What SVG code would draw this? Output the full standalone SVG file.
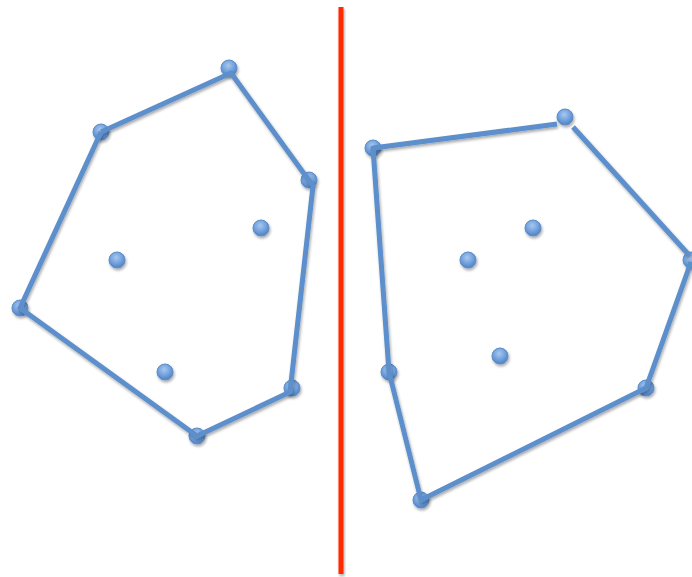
<svg xmlns="http://www.w3.org/2000/svg" width="692" height="577" viewBox="0 0 692 577">
<defs>
<radialGradient id="g" cx="0.45" cy="0.35" r="0.65">
<stop offset="0" stop-color="#a9c8f0"/>
<stop offset="0.6" stop-color="#6f9fdb"/>
<stop offset="1" stop-color="#4f82c2"/>
</radialGradient>
<filter id="sh" x="-50%" y="-50%" width="200%" height="200%">
<feGaussianBlur in="SourceAlpha" stdDeviation="1.5"/>
<feOffset dx="1" dy="2"/>
<feComponentTransfer><feFuncA type="linear" slope="0.35"/></feComponentTransfer>
<feMerge><feMergeNode/><feMergeNode in="SourceGraphic"/></feMerge>
</filter>
</defs>
<style>
.e{fill:none;stroke:#5b8fcb;stroke-width:5;stroke-linecap:butt;stroke-linejoin:round}
.d{fill:url(#g);stroke:#5a8cc8;stroke-width:1}
</style>
<rect width="692" height="577" fill="#ffffff"/>
<g id="divider" filter="url(#sh)">
<rect x="338.5" y="7" width="5" height="567" fill="#ff2a00"/>
</g>
<g id="nodes" filter="url(#sh)">
<g id="L1"><circle class="d" cx="229" cy="68" r="8"/></g>
<g id="L2"><circle class="d" cx="309" cy="180" r="8"/></g>
<g id="L3"><circle class="d" cx="292" cy="388" r="8"/></g>
<g id="L4"><circle class="d" cx="197" cy="436" r="8"/></g>
<g id="L5"><circle class="d" cx="20" cy="308" r="8"/></g>
<g id="L6"><circle class="d" cx="101" cy="132" r="8"/></g>
<g id="L7"><circle class="d" cx="117" cy="260" r="8"/></g>
<g id="L8"><circle class="d" cx="261" cy="228" r="8"/></g>
<g id="L9"><circle class="d" cx="165" cy="372" r="8"/></g>
<g id="R1"><circle class="d" cx="373" cy="148" r="8"/></g>
<g id="R2"><circle class="d" cx="565" cy="117" r="8"/></g>
<g id="R3"><circle class="d" cx="691" cy="260" r="8"/></g>
<g id="R4"><circle class="d" cx="646" cy="388" r="8"/></g>
<g id="R5"><circle class="d" cx="421" cy="500" r="8"/></g>
<g id="R6"><circle class="d" cx="389" cy="372" r="8"/></g>
<g id="R7"><circle class="d" cx="468" cy="260" r="8"/></g>
<g id="R8"><circle class="d" cx="533" cy="228" r="8"/></g>
<g id="R9"><circle class="d" cx="500" cy="356" r="8"/></g>
</g>
<g id="connectors" filter="url(#sh)">
<polyline class="e" points="101,132 231,73 313,186 290,392 197,436 20,308 101,132"/>
<polyline class="e" points="557,124 373,148 389,372 421,500 646,388 691,262"/>
<line class="e" x1="573" y1="127" x2="689" y2="255"/>
</g>
</svg>
